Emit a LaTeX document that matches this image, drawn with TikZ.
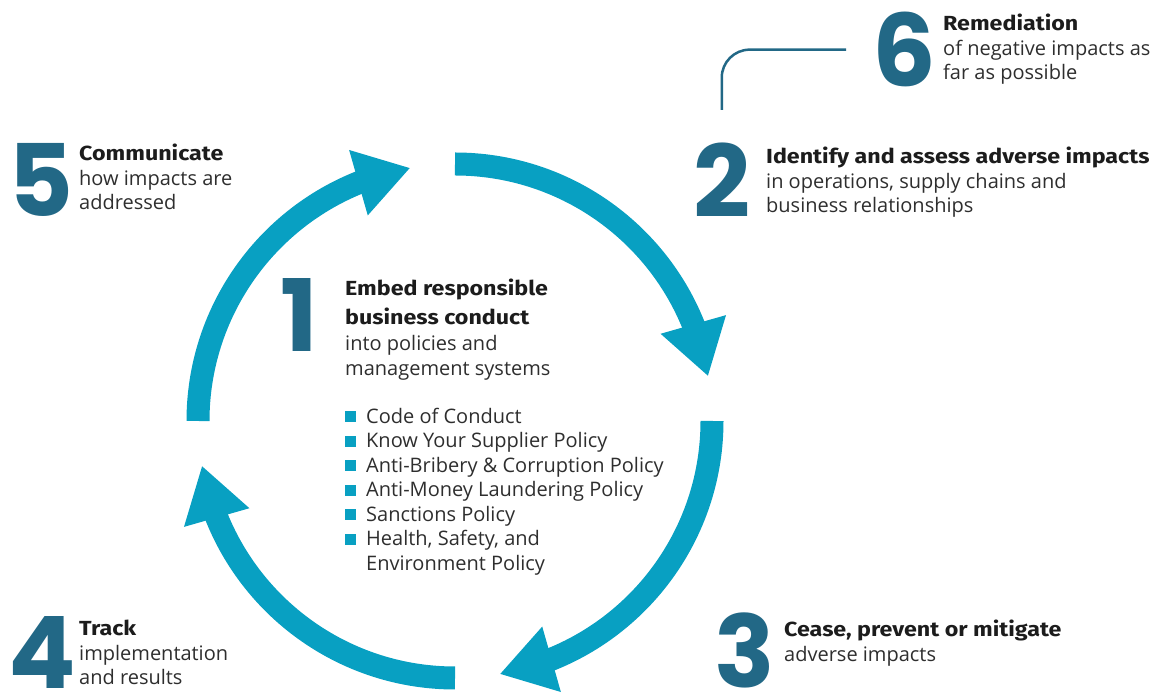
\documentclass[tikz,border=0pt]{standalone}
\usepackage{fontspec}
\setmainfont{Open Sans}
\newfontfamily\headfont{Fira Sans}[FakeStretch=1.14]
\newfontfamily\numfont{Poppins}
\usetikzlibrary{arrows.meta,bending,positioning}

\definecolor{cycleblue}{HTML}{08A0C2}
\definecolor{numblue}{HTML}{226886}
\definecolor{bodygray}{HTML}{2E2E2E}
\definecolor{headblack}{HTML}{1C1C1C}

\newcommand{\head}[1]{{\headfont\bfseries\fontsize{20.4}{24}\selectfont\color{headblack}#1}}
\newcommand{\sqbullet}{\textcolor{cycleblue}{\rule[1pt]{11pt}{11pt}}\hspace{10pt}}

\tikzset{
  cyclearrow/.style={line width=23pt, draw=cycleblue, -{Triangle[width=64pt,length=54pt]}},
  bignum/.style={font=\numfont\bfseries\fontsize{100}{100}\selectfont, text=numblue, inner sep=0pt, anchor=north west},
  steptext/.style={font=\fontsize{20}{24.5}\selectfont, text=bodygray, align=left, inner sep=0pt, anchor=north west},
  link/.style={draw=numblue, line width=2.5pt, rounded corners=28pt},
}

\begin{document}
\begin{tikzpicture}[x=1pt, y=1pt]
    \useasboundingbox (0,0) rectangle (1170,695);

    % the cycle, four arcs round one centre
    \coordinate (ctr) at (455,274);
    \draw[cyclearrow] ([shift={(90:257pt)}]ctr) arc[start angle=90, end angle=10, radius=257pt];
    \draw[cyclearrow] ([shift={(0:257pt)}]ctr) arc[start angle=0, end angle=-80, radius=257pt];
    \draw[cyclearrow] ([shift={(-90:257pt)}]ctr) arc[start angle=-90, end angle=-170, radius=257pt];
    \draw[cyclearrow] ([shift={(180:257pt)}]ctr) arc[start angle=180, end angle=100, radius=257pt];

    % step numbers
    \node[bignum] (n1) at (280,417) {1};
    \node[bignum] (n2) at (693,552) {2};
    \node[bignum] (n3) at (714,82) {3};
    \node[bignum] (n4) at (8,79) {4};
    \node[bignum] (n5) at (8,552) {5};
    \node[bignum] (n6) at (872,683) {6};

    % step texts
    \node[steptext] (t1) at (345,416) {\head{Embed responsible}\\[4.5pt]
        \head{business conduct}\\[1.5pt]
        into policies and\\management systems};
    \node[steptext] (t2) at (766,548) {\head{Identify and assess adverse impacts}\\
        in operations, supply chains and\\business relationships};
    \node[steptext] (t3) at (784,75) {\head{Cease, prevent or mitigate}\\adverse impacts};
    \node[steptext] (t4) at (79,75) {\head{Track}\\implementation\\and results};
    \node[steptext] (t5) at (79,551) {\head{Communicate}\\how impacts are\\addressed};
    \node[steptext] (t6) at (943,681) {\head{Remediation}\\of negative impacts as\\far as possible};

    % policies under step 1
    \node[steptext] (policies) at (345,287) {\sqbullet Code of Conduct\\
        \sqbullet Know Your Supplier Policy\\
        \sqbullet Anti-Bribery \& Corruption Policy\\
        \sqbullet Anti-Money Laundering Policy\\
        \sqbullet Sanctions Policy\\
        \sqbullet Health, Safety, and\\
        \hspace*{21pt}Environment Policy};

    % remediation hangs off step 2
    \draw[link] ([yshift=33pt]n2.north) |- ([xshift=-26pt]n6.west);
\end{tikzpicture}
\end{document}
